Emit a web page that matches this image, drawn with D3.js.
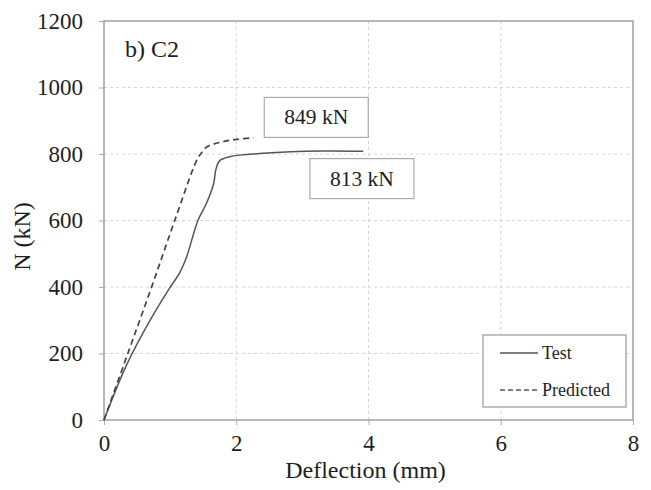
<!DOCTYPE html>
<html>
<head>
<meta charset="utf-8">
<script src="https://cdn.jsdelivr.net/npm/d3@7"></script>
<style>
  body { margin: 0; background: #fff; }
</style>
</head>
<body>
<div class="svg-container"></div>
<script>
// chart data
const testX = [0, 0.34, 0.70, 0.97, 1.15, 1.25, 1.42, 1.55, 1.66, 1.69, 1.75, 1.90, 2.40, 3.30, 3.92];
const testY = [0, 165, 301, 390, 445, 491, 600, 652, 712, 752, 780, 792, 802, 809, 808];
const predX = [0, 0.36, 0.72, 1.07, 1.40, 1.48, 1.56, 1.80, 2.00, 2.26];
const predY = [0, 200, 400, 600, 780, 805, 822, 837, 844, 849];
const xTicks = [0, 2, 4, 6, 8];
const yTicks = [0, 200, 400, 600, 800, 1000, 1200];
const labels = ['849 kN', '813 kN'];
const labelX = [3.21, 3.90];
const labelY = [910, 726];
const legendNames = ['Test', 'Predicted'];

const serif = 'Liberation Serif';
const margin = { top: 21, right: 18, bottom: 70, left: 104 };
const width = 651 - margin.left - margin.right;
const height = 490 - margin.top - margin.bottom;

const svg = d3.select('.svg-container')
    .append('svg')
    .attr('width', 651)
    .attr('height', 490)
    .append('g')
    .attr('transform', `translate(${margin.left},${margin.top})`);

const x = d3.scaleLinear().domain([0, 8]).range([0, width]);
const y = d3.scaleLinear().domain([0, 1200]).range([height, 0]);

// grid lines
svg.append('g')
    .selectAll('line')
    .data(yTicks.slice(1, -1))
    .enter()
    .append('line')
    .attr('x1', 0).attr('x2', width)
    .attr('y1', (d) => y(d)).attr('y2', (d) => y(d))
    .attr('stroke', '#d4d4d4').attr('stroke-dasharray', '3,3');
svg.append('g')
    .selectAll('line')
    .data(xTicks.slice(1, -1))
    .enter()
    .append('line')
    .attr('y1', 0).attr('y2', height)
    .attr('x1', (d) => x(d)).attr('x2', (d) => x(d))
    .attr('stroke', '#d4d4d4').attr('stroke-dasharray', '3,3');

// axes
const xAxis = svg.append('g')
    .attr('transform', `translate(0,${height})`)
    .call(d3.axisBottom(x).tickValues(xTicks).tickFormat(d3.format('d')).tickSize(5).tickPadding(10));
const yAxis = svg.append('g')
    .call(d3.axisLeft(y).tickValues(yTicks).tickFormat(d3.format('d')).tickSize(5).tickPadding(16));
[xAxis, yAxis].forEach((a) => {
    a.attr('font-family', serif).attr('font-size', 23);
    a.select('.domain').remove();
    a.selectAll('line').attr('stroke', '#aaa');
    a.selectAll('text').attr('fill', '#1e1e1e');
});

// frame
svg.append('rect')
    .attr('width', width).attr('height', height)
    .attr('fill', 'none').attr('stroke', '#a0a0a0').attr('stroke-width', 1.5);

// curves
const line = d3.line().x((d) => x(d[0])).y((d) => y(d[1])).curve(d3.curveCatmullRom.alpha(0.5));
svg.append('path')
    .datum(testX.map((v, i) => [v, testY[i]]))
    .attr('d', line)
    .attr('fill', 'none').attr('stroke', '#555').attr('stroke-width', 1.5);
svg.append('path')
    .datum(predX.map((v, i) => [v, predY[i]]))
    .attr('d', line)
    .attr('fill', 'none').attr('stroke', '#444').attr('stroke-width', 1.7)
    .attr('stroke-dasharray', '6,4');

// value boxes
labels.forEach((t, i) => {
    const g = svg.append('g').attr('transform', `translate(${x(labelX[i])},${y(labelY[i])})`);
    g.append('rect')
        .attr('x', -52).attr('y', -20).attr('width', 104).attr('height', 40)
        .attr('fill', '#fff').attr('stroke', '#aaa').attr('stroke-width', 1.2);
    g.append('text')
        .attr('text-anchor', 'middle').attr('y', 7)
        .attr('fill', '#1e1e1e')
        .style('font-family', serif).style('font-size', '21.5px').text(t);
});

// panel label
svg.append('text')
    .attr('x', 21).attr('y', 36)
    .attr('fill', '#1e1e1e')
    .style('font-family', serif).style('font-size', '24px').text('b) C2');

// legend
const legend = svg.append('g').attr('transform', `translate(${width - 150},${height - 85})`);
legend.append('rect')
    .attr('width', 143).attr('height', 72)
    .attr('fill', '#fff').attr('stroke', '#999').attr('stroke-width', 1.2);
legendNames.forEach((n, i) => {
    const ly = 18 + i * 37;
    legend.append('line')
        .attr('x1', 17).attr('x2', 55).attr('y1', ly).attr('y2', ly)
        .attr('stroke', '#555').attr('stroke-width', 1.3)
        .attr('stroke-dasharray', i === 1 ? '5,3' : null);
    legend.append('text')
        .attr('x', 59).attr('y', ly + 6)
        .attr('fill', '#1e1e1e')
        .style('font-family', serif).style('font-size', '18px').text(n);
});

// axis titles
svg.append('text')
    .attr('x', width / 2 - 3).attr('y', height + 58)
    .attr('text-anchor', 'middle')
    .attr('fill', '#1e1e1e')
    .style('font-family', serif).style('font-size', '24px').text('Deflection (mm)');
svg.append('text')
    .attr('transform', `translate(${-74},${height / 2 + 16}) rotate(-90)`)
    .attr('text-anchor', 'middle')
    .attr('fill', '#1e1e1e')
    .style('font-family', serif).style('font-size', '24px').text('N (kN)');
</script>
</body>
</html>
